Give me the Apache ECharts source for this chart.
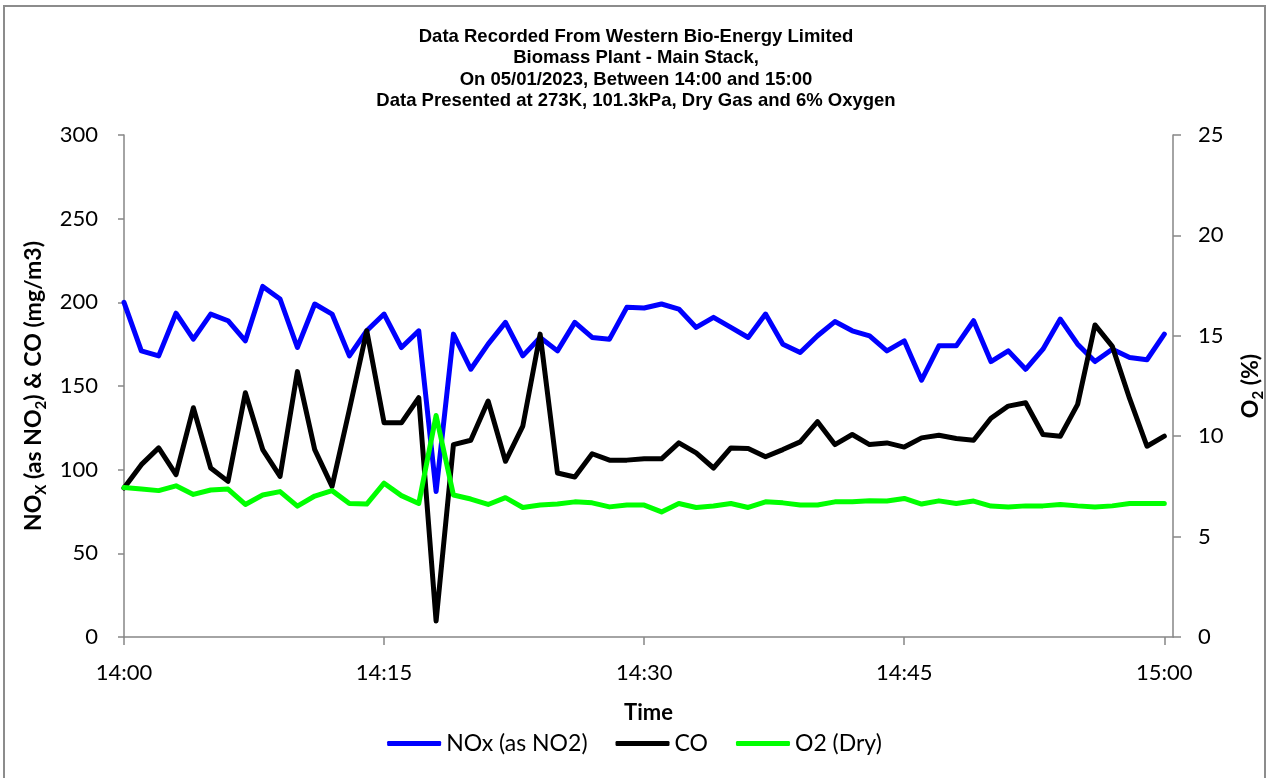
<!DOCTYPE html>
<html>
<head>
<meta charset="utf-8">
<title>Western Bio-Energy - Main Stack</title>
<script src="https://cdn.jsdelivr.net/npm/echarts@6/dist/echarts.min.js"></script>
<style>
  html, body { margin: 0; padding: 0; background: #fff; }
  #chart { width: 1269px; height: 778px; }
</style>
</head>
<body>
<div id="chart"></div>
<script>
// one reading per minute, 14:00 .. 15:00
const noxData = [
  200, 171, 168, 193.5, 178, 193, 189, 177, 209.5, 202, 173, 199, 193, 168, 183,
  193, 173, 183, 87, 181, 160, 175, 188, 168, 179, 171, 188, 179, 178, 197,
  196.6, 199, 196, 185, 191, 185, 179, 193, 175, 170, 180, 188.5, 183, 180, 171,
  177, 153.5, 174, 174, 189, 164.6, 171, 160, 172, 190, 175, 164.6, 172, 167, 165.7, 181
]
const coData = [
  89, 103, 113, 97, 137, 101, 93, 146, 112, 96, 158.6, 112, 90, 136, 183,
  128, 128, 143, 9.5, 115, 117.6, 141, 105, 126, 181, 98, 95.6, 109.5, 105.7, 105.7,
  106.5, 106.5, 116, 110, 101, 113, 112.7, 107.7, 112, 116.6, 128.7, 115, 121, 115, 116,
  113.5, 119, 120.6, 118.6, 117.6, 130.7, 138, 140, 121, 120, 139, 186.5, 173.7, 142.4, 114, 120
]
const o2Data = [
  7.44, 7.37, 7.29, 7.53, 7.1, 7.32, 7.37, 6.6, 7.07, 7.24, 6.52, 7.02, 7.29, 6.65, 6.62,
  7.66, 7.04, 6.65, 11.03, 7.07, 6.87, 6.6, 6.94, 6.45, 6.57, 6.62, 6.73, 6.68, 6.48, 6.57,
  6.57, 6.23, 6.65, 6.45, 6.52, 6.65, 6.45, 6.73, 6.68, 6.57, 6.57, 6.73, 6.73, 6.78, 6.77,
  6.9, 6.62, 6.78, 6.65, 6.77, 6.52, 6.48, 6.53, 6.53, 6.6, 6.53, 6.48, 6.53, 6.65, 6.65, 6.65
]
const tickMinutes = [0, 15, 30, 45, 60]
const tickLabels = ['14:00', '14:15', '14:30', '14:45', '15:00']

const axisGrey = '#868686'
const font = 'Lato, "Open Sans", sans-serif'

function toPairs(arr) {
  return arr.map((v, i) => [i, v])
}

// bold axis-name pieces, with a lowered small style for subscripts
const nameRich = {
  b: { fontFamily: font, fontSize: 23, fontWeight: 'bold', color: '#000', lineHeight: 30, verticalAlign: 'middle' },
  sub: { fontFamily: font, fontSize: 15, fontWeight: 'bold', color: '#000', lineHeight: 30, verticalAlign: 'bottom' }
}

const chart = echarts.init(document.getElementById('chart'))

chart.setOption({
  animation: false,
  backgroundColor: '#fff',
  graphic: [
    {
      type: 'rect',
      shape: { x: 4, y: 6, width: 1261, height: 790 },
      style: { fill: 'none', stroke: '#8c8c8c', lineWidth: 2 },
      silent: true
    }
  ],
  title: {
    text: 'Data Recorded From Western Bio-Energy Limited\nBiomass Plant - Main Stack,\nOn 05/01/2023, Between 14:00 and 15:00\nData Presented at 273K, 101.3kPa, Dry Gas and 6% Oxygen',
    left: 636,
    top: 26,
    padding: 0,
    textAlign: 'center',
    textStyle: {
      fontFamily: '"Liberation Sans", Arial, sans-serif',
      fontWeight: 'bold',
      fontSize: 18.5,
      lineHeight: 21.5,
      color: '#000'
    }
  },
  grid: {
    left: 124,
    right: 96,
    top: 135,
    bottom: 141,
    containLabel: false,
    outerBoundsMode: 'none'
  },
  legend: {
    bottom: 18,
    left: 'center',
    itemWidth: 54,
    itemHeight: 5,
    itemGap: 28,
    icon: 'roundRect',
    textStyle: { fontFamily: font, fontSize: 23, color: '#000' },
    data: ['NOx (as NO2)', 'CO', 'O2 (Dry)']
  },
  xAxis: {
    type: 'value',
    min: 0,
    max: 60.5,
    name: 'Time',
    nameLocation: 'middle',
    nameGap: 65,
    nameTextStyle: { fontFamily: font, fontSize: 22, fontWeight: 'bold', color: '#000' },
    splitLine: { show: false },
    axisLine: { show: true, lineStyle: { color: axisGrey, width: 1.5 } },
    axisTick: { show: true, length: 8, customValues: tickMinutes, lineStyle: { color: axisGrey, width: 1.5 } },
    axisLabel: {
      customValues: tickMinutes,
      margin: 25,
      fontFamily: font,
      fontSize: 22,
      color: '#000',
      formatter: (v) => tickLabels[tickMinutes.indexOf(v)] || ''
    }
  },
  yAxis: [
    {
      type: 'value',
      position: 'left',
      min: 0,
      max: 300,
      interval: 50,
      name: '{b|NO}{sub|X}{b| (as NO}{sub|2}{b|) & CO (mg/m3)}',
      nameLocation: 'middle',
      nameRotate: 90,
      nameGap: 72,
      nameTextStyle: { rich: nameRich },
      splitLine: { show: false },
      axisLine: { show: true, lineStyle: { color: axisGrey, width: 1.5 } },
      axisTick: { show: true, length: 6, lineStyle: { color: axisGrey, width: 1.5 } },
      axisLabel: { margin: 26, fontFamily: font, fontSize: 22, color: '#000' }
    },
    {
      type: 'value',
      position: 'right',
      min: 0,
      max: 25,
      interval: 5,
      name: '{b|O}{sub|2}{b| (%)}',
      nameLocation: 'middle',
      nameRotate: 90,
      nameGap: 63,
      nameTextStyle: { rich: nameRich },
      splitLine: { show: false },
      axisLine: { show: true, lineStyle: { color: axisGrey, width: 1.5 } },
      axisTick: { show: true, length: 8, lineStyle: { color: axisGrey, width: 1.5 } },
      axisLabel: { margin: 25, fontFamily: font, fontSize: 22, color: '#000' }
    }
  ],
  series: [
    {
      name: 'NOx (as NO2)',
      type: 'line',
      yAxisIndex: 0,
      data: toPairs(noxData),
      showSymbol: false,
      color: '#0000ff',
      lineStyle: { color: '#0000ff', width: 5, join: 'round', cap: 'round' }
    },
    {
      name: 'CO',
      type: 'line',
      yAxisIndex: 0,
      data: toPairs(coData),
      showSymbol: false,
      color: '#000000',
      lineStyle: { color: '#000000', width: 5, join: 'round', cap: 'round' }
    },
    {
      name: 'O2 (Dry)',
      type: 'line',
      yAxisIndex: 1,
      data: toPairs(o2Data),
      showSymbol: false,
      color: '#00ff00',
      lineStyle: { color: '#00ff00', width: 5, join: 'round', cap: 'round' }
    }
  ]
})
</script>
</body>
</html>
